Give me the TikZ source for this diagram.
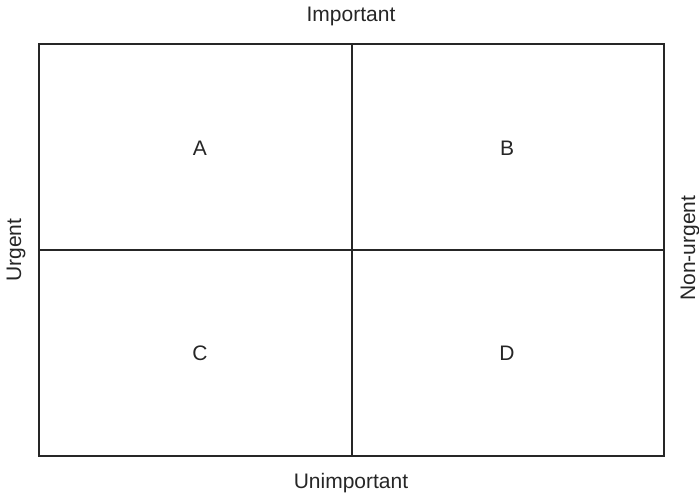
\documentclass[tikz,border=0pt]{standalone}
\usepackage{fontspec}
\setmainfont{Liberation Sans}
\begin{document}
\begin{tikzpicture}[x=1pt,y=-1pt,
  lbl/.style={inner sep=0pt,anchor=base,font=\fontsize{21}{25}\selectfont,text=black!85},
  frame/.style={draw=black!85,line width=1.3pt}]
\useasboundingbox (0,0) rectangle (699,498);
\coordinate (tl) at (39,44);
\coordinate (br) at (664,456);
\coordinate (tm) at (352,44);
\coordinate (bm) at (352,456);
\coordinate (lm) at (39,250);
\coordinate (rm) at (664,250);
\draw[frame] (tl) rectangle (br);
\draw[frame] (tm) -- (bm);
\draw[frame] (lm) -- (rm);
\node[lbl] (imp) at (351,21) {Important};
\node[lbl] (unimp) at (351,488) {Unimportant};
\node[lbl,rotate=90] (urg) at (21,250) {Urgent};
\node[lbl,rotate=90] (nonurg) at (695,248) {Non-urgent};
\node[lbl] (a) at (200,155) {A};
\node[lbl] (b) at (507,155) {B};
\node[lbl] (c) at (200,360) {C};
\node[lbl] (d) at (507,360) {D};
\end{tikzpicture}
\end{document}
